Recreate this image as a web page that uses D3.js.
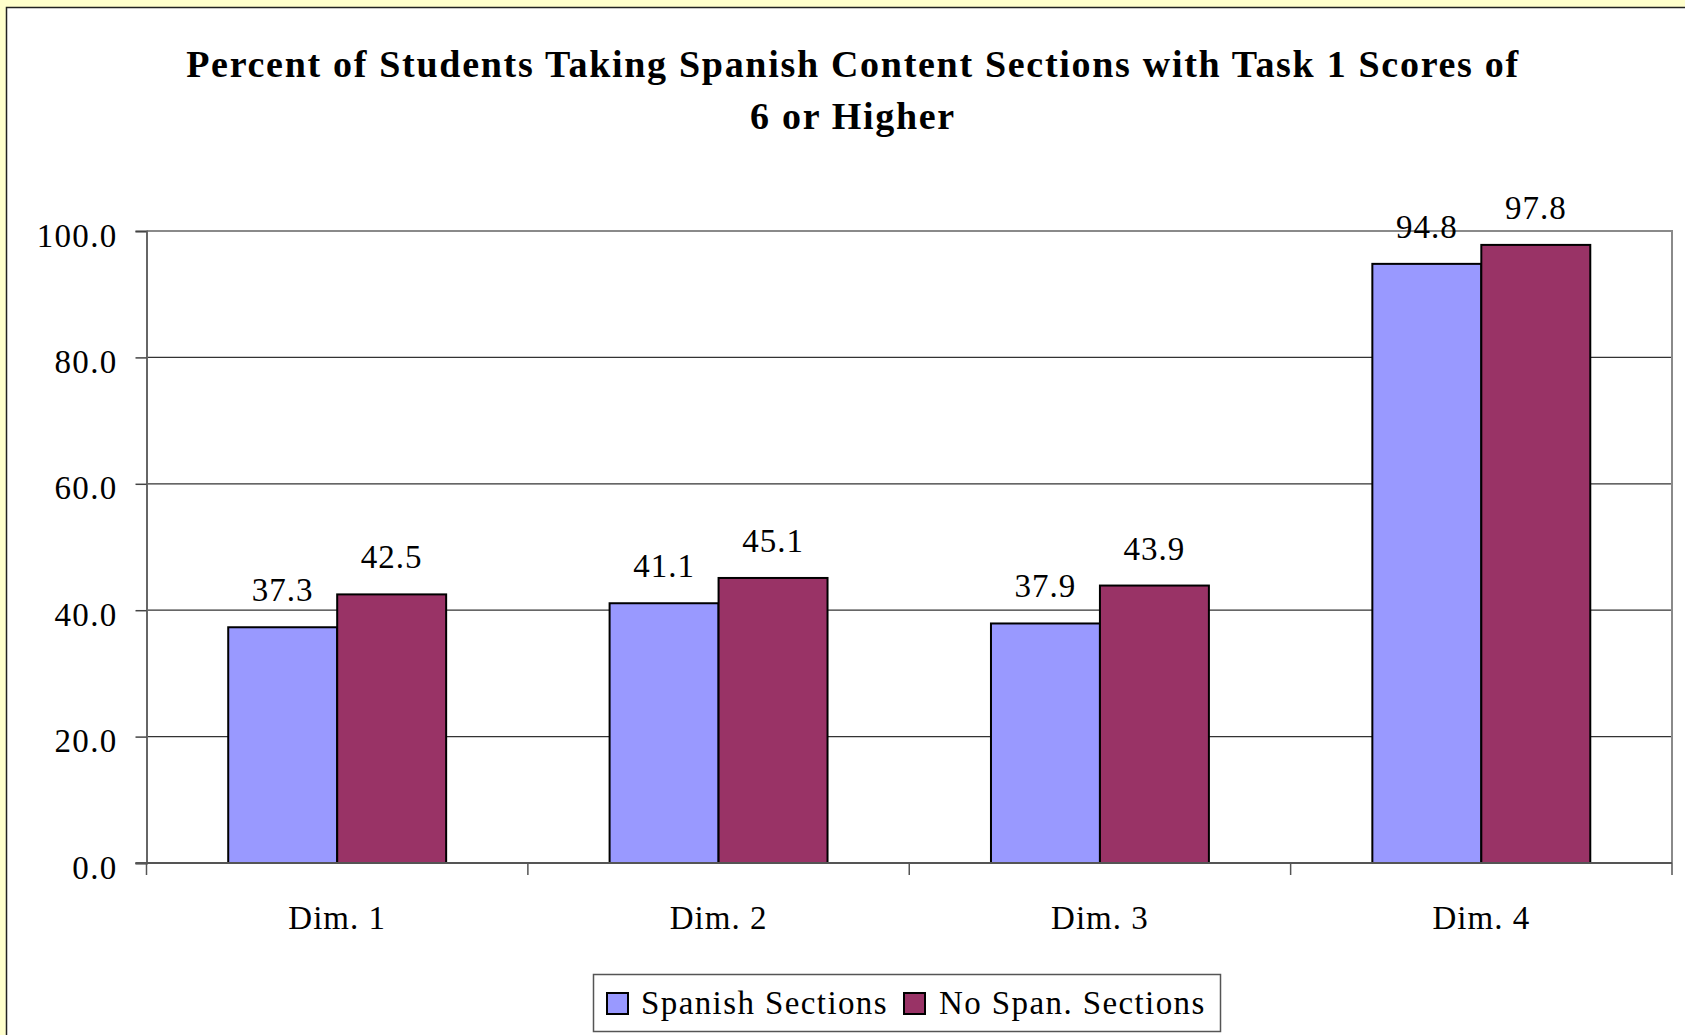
<!DOCTYPE html>
<html>
<head>
<meta charset="utf-8">
<script src="https://cdn.jsdelivr.net/npm/d3@7"></script>
<style>
  html, body { margin: 0; padding: 0; background: #FFFFCC; overflow: hidden; }
  svg { display: block; }
  text { font-family: "Liberation Serif", "Times New Roman", serif; fill: #000; }
</style>
</head>
<body>
<svg id="chart" width="1685" height="1035"></svg>
<script>
// Chart data
const categories = ["Dim. 1", "Dim. 2", "Dim. 3", "Dim. 4"];
const seriesNames = ["Spanish Sections", "No Span. Sections"];
const spanishValues = [37.3, 41.1, 37.9, 94.8];
const noSpanValues = [42.5, 45.1, 43.9, 97.8];
const yTickValues = [0, 20, 40, 60, 80, 100];
const titleLines = [
  "Percent of Students Taking Spanish Content Sections with Task 1 Scores of",
  "6 or Higher"
];
const seriesColors = ["#9999FF", "#993366"];

const seriesValues = [spanishValues, noSpanValues];
const rows = categories.map((c, i) => ({
  category: c,
  values: seriesNames.map((s, j) => ({ series: s, index: j, value: seriesValues[j][i] }))
}));

const svg = d3.select("#chart");

// White chart area with its dark frame
svg.append("rect")
  .attr("x", 6.5).attr("y", 7.5)
  .attr("width", 1700).attr("height", 1040)
  .attr("fill", "#fff").attr("stroke", "#222").attr("stroke-width", 1.5);

// Title
const title = svg.append("text")
  .attr("text-anchor", "middle")
  .style("font-weight", "bold")
  .style("font-size", "38px")
  .style("letter-spacing", "1.7px");
titleLines.forEach((line, i) => {
  title.append("tspan").attr("x", 853).attr("y", 77 + i * 52).text(line);
});

// Plot geometry
const plot = { left: 146.5, right: 1672, top: 231, bottom: 863 };

const x = d3.scaleBand()
  .domain(categories)
  .range([plot.left, plot.right])
  .paddingInner(0).paddingOuter(0);

const xSeries = d3.scaleBand()
  .domain(seriesNames)
  .range([0, x.bandwidth()])
  .paddingInner(0).paddingOuter(0.75);

const y = d3.scaleLinear().domain([0, 100]).range([plot.bottom, plot.top]);

// Horizontal gridlines
svg.append("g")
  .selectAll("line")
  .data(yTickValues.filter(v => v > 0 && v < 100))
  .join("line")
  .attr("x1", plot.left).attr("x2", plot.right)
  .attr("y1", d => y(d)).attr("y2", d => y(d))
  .attr("stroke", "#333").attr("stroke-width", 1.3);

// Plot frame: top and right edges
svg.append("path")
  .attr("d", `M${plot.left},${y(100)}H${plot.right}V${plot.bottom}`)
  .attr("fill", "none").attr("stroke", "#8a8a8a").attr("stroke-width", 2);

// Bars
const groups = svg.append("g")
  .selectAll("g")
  .data(rows)
  .join("g")
  .attr("transform", d => `translate(${x(d.category)},0)`);

groups.selectAll("rect")
  .data(d => d.values)
  .join("rect")
  .attr("x", d => xSeries(d.series))
  .attr("width", xSeries.bandwidth())
  .attr("y", d => y(d.value))
  .attr("height", d => y(0) - y(d.value))
  .attr("fill", d => seriesColors[d.index])
  .attr("stroke", "#000").attr("stroke-width", 2);

// Value labels
groups.selectAll("text")
  .data(d => d.values)
  .join("text")
  .attr("x", d => xSeries(d.series) + xSeries.bandwidth() / 2)
  .attr("y", d => y(d.value) - 26)
  .attr("text-anchor", "middle")
  .style("font-size", "33px")
  .style("letter-spacing", "1px")
  .text(d => d.value.toFixed(1));

// Y axis
const yAxis = svg.append("g")
  .attr("transform", `translate(${plot.left},0)`)
  .call(d3.axisLeft(y).tickValues(yTickValues).tickFormat(d3.format(".1f")).tickSize(11).tickPadding(18));
yAxis.select(".domain").attr("stroke", "#666").attr("stroke-width", 2);
yAxis.selectAll(".tick line").attr("stroke", "#444").attr("stroke-width", 1.5);
yAxis.selectAll(".tick text")
  .attr("dy", null).attr("y", 15)
  .style("font-size", "33px").style("letter-spacing", "1.3px")
  .style("font-family", "'Liberation Serif', 'Times New Roman', serif");

// X axis: ticks at category boundaries
const boundaries = categories.map(c => x(c)).concat([plot.right]);
svg.append("line")
  .attr("x1", plot.left - 11).attr("x2", plot.right)
  .attr("y1", plot.bottom).attr("y2", plot.bottom)
  .attr("stroke", "#555").attr("stroke-width", 2);
svg.append("g")
  .selectAll("line")
  .data(boundaries)
  .join("line")
  .attr("x1", d => d).attr("x2", d => d)
  .attr("y1", plot.bottom).attr("y2", plot.bottom + 12)
  .attr("stroke", "#555").attr("stroke-width", 1.5);

svg.append("g")
  .selectAll("text")
  .data(categories)
  .join("text")
  .attr("x", d => x(d) + x.bandwidth() / 2)
  .attr("y", 929)
  .attr("text-anchor", "middle")
  .style("font-size", "33px")
  .style("letter-spacing", "1px")
  .text(d => d);

// Legend
const legend = svg.append("g");
legend.append("rect")
  .attr("x", 593.5).attr("y", 974.5)
  .attr("width", 627).attr("height", 57)
  .attr("fill", "#fff").attr("stroke", "#555").attr("stroke-width", 1.5);

const legendItems = [
  { name: seriesNames[0], color: seriesColors[0], sx: 607, tx: 641 },
  { name: seriesNames[1], color: seriesColors[1], sx: 904, tx: 939 }
];
legendItems.forEach(item => {
  legend.append("rect")
    .attr("x", item.sx).attr("y", 993)
    .attr("width", 21).attr("height", 21)
    .attr("fill", item.color).attr("stroke", "#000").attr("stroke-width", 2);
  legend.append("text")
    .attr("x", item.tx).attr("y", 1014)
    .style("font-size", "33px")
    .style("letter-spacing", "1.4px")
    .text(item.name);
});
</script>
</body>
</html>
